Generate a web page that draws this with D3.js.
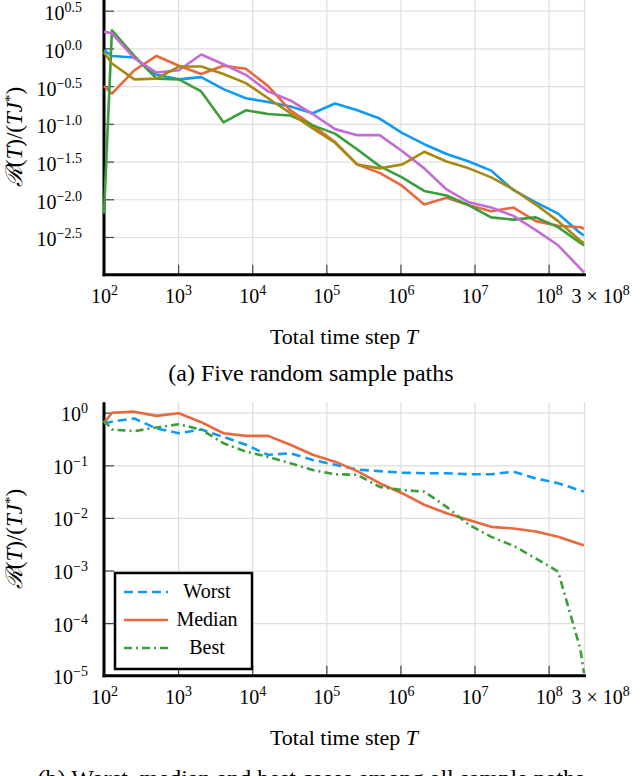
<!DOCTYPE html>
<html>
<head>
<meta charset="utf-8">
<script src="https://cdn.jsdelivr.net/npm/d3@7"></script>
<style>
  body { margin: 0; background: #fff; }
  svg { display: block; }
  text { font-family: "Liberation Serif", "Times New Roman", serif; fill: #000; }
</style>
</head>
<body>
<svg id="fig" width="640" height="776"></svg>
<script>
// time steps T where the regret ratio was recorded
const steps = [100, 128, 256, 512, 1024, 2048, 4096, 8192, 16384, 32768, 65536,
  131072, 262144, 524288, 1048576, 2097152, 4194304, 8388608, 16777216,
  33554432, 67108864, 134217728, 268435456, 300000000];

// (a) five sample paths, log10 of R(T)/(T J*)
const pathBlue   = [-0.02, -0.10, -0.12, -0.35, -0.41, -0.38, -0.54, -0.66, -0.71, -0.77, -0.86, -0.73, -0.82, -0.93, -1.12, -1.27, -1.40, -1.50, -1.62, -1.88, -2.04, -2.19, -2.45, -2.48];
const pathOrange = [-0.50, -0.60, -0.29, -0.10, -0.23, -0.34, -0.23, -0.27, -0.50, -0.82, -1.02, -1.24, -1.54, -1.65, -1.82, -2.07, -1.98, -2.08, -2.16, -2.11, -2.29, -2.35, -2.37, -2.39];
const pathGreen  = [-2.19, 0.24, -0.10, -0.40, -0.41, -0.57, -0.98, -0.82, -0.87, -0.89, -1.02, -1.13, -1.34, -1.56, -1.71, -1.89, -1.95, -2.08, -2.24, -2.27, -2.24, -2.37, -2.58, -2.61];
const pathPurple = [0.22, 0.20, -0.13, -0.32, -0.29, -0.08, -0.21, -0.35, -0.57, -0.69, -0.87, -1.07, -1.15, -1.15, -1.36, -1.59, -1.87, -2.04, -2.11, -2.22, -2.41, -2.61, -2.92, -2.97];
const pathOlive  = [-0.05, -0.20, -0.41, -0.40, -0.24, -0.24, -0.34, -0.46, -0.66, -0.86, -1.06, -1.25, -1.54, -1.59, -1.54, -1.37, -1.50, -1.59, -1.71, -1.87, -2.07, -2.29, -2.55, -2.58];

// (b) worst / median / best, log10 of R(T)/(T J*)
const worstCase  = [-0.20, -0.17, -0.11, -0.30, -0.39, -0.32, -0.46, -0.61, -0.80, -0.77, -0.90, -0.99, -1.08, -1.11, -1.14, -1.15, -1.15, -1.17, -1.17, -1.12, -1.25, -1.34, -1.48, -1.50];
const medianCase = [-0.20, 0.00, 0.02, -0.06, -0.01, -0.18, -0.39, -0.44, -0.44, -0.61, -0.80, -0.93, -1.11, -1.34, -1.53, -1.75, -1.91, -2.04, -2.17, -2.20, -2.26, -2.36, -2.50, -2.52];
const bestCase   = [-0.14, -0.32, -0.35, -0.28, -0.22, -0.32, -0.58, -0.74, -0.84, -0.96, -1.09, -1.17, -1.18, -1.41, -1.47, -1.50, -1.79, -2.13, -2.36, -2.53, -2.77, -3.02, -4.50, -4.95];

const legendNames = ["Worst", "Median", "Best"];

// tick labels
const xTickVals = [1e2, 1e3, 1e4, 1e5, 1e6, 1e7, 1e8, 3e8];
const xTickBase = ["10", "10", "10", "10", "10", "10", "10", "3 × 10"];
const xTickExp  = ["2", "3", "4", "5", "6", "7", "8", "8"];
const yTickExpA = ["0.5", "0.0", "−0.5", "−1.0", "−1.5", "−2.0", "−2.5"];
const yTickExpB = ["0", "−1", "−2", "−3", "−4", "−5"];

const svg = d3.select("#fig");
const x = d3.scaleLog().domain([100, 3e8]).range([104, 584]);
const gridColor = "#dedede";

function exponentLabel(sel, base, exp) {
  sel.text(null);
  sel.append("tspan").attr("font-size", 20).text(base);
  sel.append("tspan").attr("dy", -8).attr("font-size", 14).text(exp);
}

function panel(y, yTop, yTickVals, yTickExp, yLabelX, yLabelDy) {
  const x0 = x.range()[0], x1 = x.range()[1], yb = y.range()[0];
  const g = svg.append("g");

  // grid
  g.append("g")
    .attr("transform", `translate(0,${yb})`)
    .call(d3.axisBottom(x).tickValues(xTickVals.slice(1)).tickSize(-(yb - yTop)).tickFormat(""))
    .call(s => s.select(".domain").remove())
    .selectAll("line").attr("stroke", gridColor).attr("stroke-width", 1.2);
  g.append("g")
    .attr("transform", `translate(${x0},0)`)
    .call(d3.axisLeft(y).tickValues(yTickVals).tickSize(-(x1 - x0)).tickFormat(""))
    .call(s => s.select(".domain").remove())
    .selectAll("line").attr("stroke", gridColor).attr("stroke-width", 1.2);

  // tick marks + labels
  const xa = g.append("g")
    .attr("transform", `translate(0,${yb})`)
    .call(d3.axisBottom(x).tickValues(xTickVals).tickSize(-10).tickFormat(""))
    .call(s => s.select(".domain").remove())
    .attr("font-size", 20);
  xa.selectAll(".tick line").attr("stroke", "#444").attr("stroke-width", 1.2)
    .attr("opacity", (d, i) => (i === 0 || i === xTickVals.length - 1) ? 0 : 1);
  xa.selectAll(".tick text")
    .attr("y", 28).attr("dy", 0)
    .each(function (d, i) { exponentLabel(d3.select(this), xTickBase[i], xTickExp[i]); })
    .filter((d, i) => i === xTickVals.length - 1)
    .attr("text-anchor", "start").attr("x", -13);

  const ya = g.append("g")
    .attr("transform", `translate(${x0},0)`)
    .call(d3.axisLeft(y).tickValues(yTickVals).tickSize(-10).tickFormat(""))
    .call(s => s.select(".domain").remove())
    .attr("font-size", 20);
  ya.selectAll(".tick line").attr("stroke", "#444").attr("stroke-width", 1.2);
  ya.selectAll(".tick text")
    .attr("x", yLabelX).attr("dy", yLabelDy)
    .each(function (d, i) { exponentLabel(d3.select(this), "10", yTickExp[i]); });

  // axis lines
  g.append("line").attr("x1", x0).attr("x2", x0).attr("y1", yTop).attr("y2", yb + 1.5)
    .attr("stroke", "#000").attr("stroke-width", 3);
  g.append("line").attr("x1", x0 - 1.5).attr("x2", x1 + 2).attr("y1", yb).attr("y2", yb)
    .attr("stroke", "#000").attr("stroke-width", 3);

  // axis title
  const xt = g.append("text").attr("x", (x0 + x1) / 2).attr("y", yb + 69)
    .attr("text-anchor", "middle").attr("font-size", 22);
  xt.append("tspan").text("Total time step ");
  xt.append("tspan").attr("font-style", "italic").text("T");

  return g;
}

function yTitle(cx, cy) {
  const t = svg.append("text")
    .attr("transform", `translate(${cx},${cy}) rotate(-90)`)
    .attr("text-anchor", "middle").attr("dominant-baseline", "middle")
    .attr("font-size", 23);
  t.append("tspan").attr("font-style", "italic").text("ℛ");
  t.append("tspan").text("(");
  t.append("tspan").attr("font-style", "italic").text("T");
  t.append("tspan").text(")/(");
  t.append("tspan").attr("font-style", "italic").text("TJ");
  t.append("tspan").attr("dy", -5).attr("font-size", 15).text("*");
  t.append("tspan").attr("dy", 5).text(")");
}

// ---------- (a) ----------
const yA = d3.scaleLog().domain([1e-3, Math.pow(10, 0.642)]).range([274.7, 0]);
const yTicksA = [0.5, 0, -0.5, -1, -1.5, -2, -2.5].map(e => Math.pow(10, e));
const gA = panel(yA, 0, yTicksA, yTickExpA, -22, 9);

const lineA = d3.line().x((d, i) => x(steps[i])).y(d => yA(Math.pow(10, d)));
const seriesA = [pathBlue, pathOrange, pathGreen, pathPurple, pathOlive];
const colorsA = ["#0d9bf3", "#e8693d", "#3a9e3a", "#c56bd6", "#a8880f"];
gA.append("g").selectAll("path")
  .data(seriesA)
  .join("path")
  .attr("d", lineA)
  .attr("fill", "none")
  .attr("stroke", (d, i) => colorsA[i])
  .attr("stroke-width", 2.6)
  .attr("stroke-linejoin", "round");

yTitle(17, 137);
svg.append("text").attr("x", 311).attr("y", 381).attr("text-anchor", "middle")
  .attr("font-size", 24).text("(a) Five random sample paths");

// ---------- (b) ----------
const yB = d3.scaleLog().domain([1e-5, Math.pow(10, 0.2)]).range([675.7, 402.2]);
const yTicksB = [1, 1e-1, 1e-2, 1e-3, 1e-4, 1e-5];
const gB = panel(yB, 402.2, yTicksB, yTickExpB, -16, 8);

const lineB = d3.line().x((d, i) => x(steps[i])).y(d => yB(Math.pow(10, d)));
const seriesB = [worstCase, medianCase, bestCase];
const colorsB = ["#0d9bf3", "#e8693d", "#3a9e3a"];
const dashesB = ["9,5", null, "8,4,2,4"];
gB.append("g").selectAll("path")
  .data(seriesB)
  .join("path")
  .attr("d", lineB)
  .attr("fill", "none")
  .attr("stroke", (d, i) => colorsB[i])
  .attr("stroke-dasharray", (d, i) => dashesB[i])
  .attr("stroke-width", 2.6)
  .attr("stroke-linejoin", "round");

// legend
const lg = svg.append("g").attr("transform", "translate(115,573)");
lg.append("rect").attr("width", 137).attr("height", 96)
  .attr("fill", "#fff").attr("stroke", "#000").attr("stroke-width", 2.5);
const items = lg.selectAll("g.item").data(legendNames).join("g")
  .attr("class", "item")
  .attr("transform", (d, i) => `translate(0,${19 + i * 28})`);
items.append("line").attr("x1", 9).attr("x2", 53)
  .attr("stroke", (d, i) => colorsB[i])
  .attr("stroke-dasharray", (d, i) => dashesB[i])
  .attr("stroke-width", 2.6);
items.append("text").attr("x", 92).attr("y", 6).attr("text-anchor", "middle")
  .attr("font-size", 20).text(d => d);

yTitle(17, 539);
svg.append("text").attr("x", 311).attr("y", 786).attr("text-anchor", "middle")
  .attr("font-size", 24).text("(b) Worst, median and best cases among all sample paths");
</script>
</body>
</html>
